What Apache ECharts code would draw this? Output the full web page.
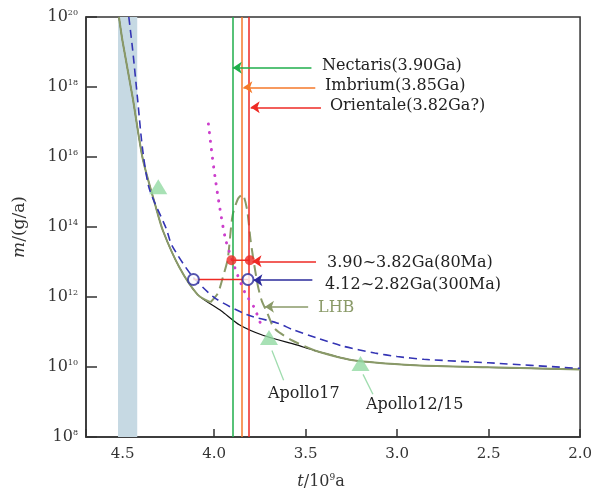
<!DOCTYPE html>
<html>
<head>
<meta charset="utf-8">
<script src="https://cdn.jsdelivr.net/npm/echarts@6/dist/echarts.min.js"></script>
<style>
  html, body { margin: 0; padding: 0; background: #fff; }
  #chart { width: 595px; height: 495px; }
</style>
</head>
<body>
<div id="chart"></div>
<script>
// t in 10^9 a, m as log10 of g/a
const tBlack = [4.52, 4.50, 4.445, 4.39, 4.32, 4.28, 4.19, 4.09, 3.96, 3.86, 3.73, 3.55, 3.45, 3.25, 2.9, 2.5, 2.0];
const mBlack = [20.0, 19.3, 17.7, 15.95, 14.6, 13.9, 12.85, 12.07, 11.6, 11.2, 10.9, 10.63, 10.47, 10.2, 10.05, 9.99, 9.93];

const tBump = [4.02, 3.98, 3.95, 3.925, 3.90, 3.87, 3.845, 3.82, 3.80, 3.78, 3.76, 3.74, 3.71, 3.67, 3.57, 3.45];
const mBump = [11.85, 12.1, 12.6, 13.1, 14.3, 14.8, 14.93, 14.5, 13.6, 12.9, 12.3, 11.9, 11.55, 11.1, 10.75, 10.47];

const tBlue = [4.466, 4.445, 4.418, 4.391, 4.354, 4.262, 4.231, 4.123, 3.995, 3.818, 3.657, 3.566, 3.443, 3.3, 3.122, 3.0, 2.854, 2.5, 2.0];
const mBlue = [20.0, 19.06, 17.65, 16.23, 15.09, 13.96, 13.48, 12.62, 11.97, 11.49, 11.26, 11.06, 10.84, 10.6, 10.4, 10.3, 10.22, 10.12, 9.96];

const tMag = [4.031, 4.015, 3.995, 3.968, 3.936, 3.882, 3.83, 3.78, 3.738];
const mMag = [16.94, 16.23, 15.43, 14.52, 13.62, 12.77, 12.11, 11.69, 11.12];

const triT = [4.305, 3.70, 3.20];
const triM = [15.15, 10.84, 10.1];

const blueCircleT = [4.113, 3.815];
const blueCircleM = [12.5, 12.5];
const redCircleT = [3.905, 3.805];
const redCircleM = [13.05, 13.05];

const basinT = [3.90, 3.845, 3.805];      // Nectaris, Imbrium, Orientale
const bandT = [4.525, 4.42];

// horizontal arrows: level, start (label side), tip
const arrowM  = [18.55, 17.99, 17.42, 13.02, 12.48, 11.72];
const arrowT0 = [3.468, 3.447, 3.416, 3.443, 3.463, 3.486];
const arrowT1 = [3.898, 3.840, 3.800, 3.790, 3.785, 3.722];
const arrowColors = ['#1fae4b', '#f5792a', '#ee2a24', '#ee2a24', '#2b2b9b', '#8a9a68'];

// Apollo pointers: [t0, m0, t1, m1]
const pointers = [[3.62, 9.62, 3.684, 10.47], [3.132, 9.22, 3.186, 9.79]];

const xTicks = [2.0, 2.5, 3.0, 3.5, 4.0, 4.5];

const zip = (a, b) => a.map((v, i) => [v, b[i]]);

const blackPts = zip(tBlack, mBlack);
const bumpPts = zip(tBump, mBump);
const oliveSolid = blackPts.filter(p => p[0] > 4.05)
  .concat([bumpPts[0], null, bumpPts[bumpPts.length - 1]])
  .concat(blackPts.filter(p => p[0] < 3.45));

const serif = 'DejaVu Serif';
const chart = echarts.init(document.getElementById('chart'));

const labelText = (text, x, y, color) => ({
  type: 'text', left: x, top: y - 10,
  style: { text: text, font: '16px "DejaVu Serif"', fill: color || '#222' }
});

const curve = (data, lineStyle, z) => ({
  type: 'line', data: data, smooth: 0.25, showSymbol: false,
  connectNulls: false, lineStyle: lineStyle, z: z
});

chart.setOption({
  animation: false,
  grid: { left: 86, right: 6, top: 17, bottom: 55, show: true, borderColor: '#333', borderWidth: 1.5 },
  xAxis: {
    type: 'value', min: 2.0, max: 4.7, interval: 0.5, inverse: true,
    axisLine: { lineStyle: { color: '#333', width: 1.5 } },
    axisTick: { inside: true, length: 8, lineStyle: { color: '#333', width: 1.5 } },
    axisLabel: {
      color: '#333', fontFamily: serif, fontSize: 15, margin: 10,
      formatter: v => xTicks.some(x => Math.abs(x - v) < 1e-6) ? v.toFixed(1) : ''
    },
    splitLine: { show: false },
    name: '{i|t}/10{s|9}a', nameLocation: 'middle', nameGap: 36,
    nameTextStyle: {
      color: '#333', fontFamily: serif, fontSize: 16, padding: [0, 24, 0, 0],
      rich: {
        i: { fontFamily: serif, fontSize: 16, fontStyle: 'italic', color: '#333' },
        s: { fontFamily: serif, fontSize: 9, color: '#333', padding: [0, 0, 9, 0] }
      }
    }
  },
  yAxis: {
    type: 'value', min: 8, max: 20, interval: 2,
    axisLine: { lineStyle: { color: '#333', width: 1.5 } },
    axisTick: { inside: true, length: 11, lineStyle: { color: '#333', width: 1.5 } },
    axisLabel: {
      margin: 8,
      formatter: v => '{b|10}{s|' + v + '}',
      rich: {
        b: { fontFamily: serif, fontSize: 16, color: '#333' },
        s: { fontFamily: serif, fontSize: 8, color: '#333', padding: [0, 0, 9, 0] }
      }
    },
    splitLine: { show: false },
    name: '{i|m}/(g/a)', nameLocation: 'middle', nameGap: 58,
    nameTextStyle: {
      color: '#333', fontFamily: serif, fontSize: 17,
      rich: { i: { fontFamily: serif, fontSize: 17, fontStyle: 'italic', color: '#333' } }
    }
  },
  graphic: [
    labelText('Nectaris(3.90Ga)', 322, 68),
    labelText('Imbrium(3.85Ga)', 325, 88),
    labelText('Orientale(3.82Ga?)', 330, 108),
    labelText('3.90~3.82Ga(80Ma)', 327, 265),
    labelText('4.12~2.82Ga(300Ma)', 325, 287),
    labelText('LHB', 318, 310, '#8a9a68'),
    labelText('Apollo17', 268, 396),
    labelText('Apollo12/15', 366, 407)
  ],
  series: [
    {
      type: 'line', data: [], silent: true,
      markArea: {
        silent: true,
        itemStyle: { color: '#c6d9e3' },
        data: [[{ xAxis: bandT[0] }, { xAxis: bandT[1] }]]
      },
      markLine: {
        silent: true, symbol: 'none', label: { show: false },
        data: basinT.map((t, i) => ({
          xAxis: t,
          lineStyle: { type: 'solid', width: 1.5, color: ['#1fae4b', '#f5792a', '#ee2a24'][i] }
        }))
      },
      z: 1
    },
    curve(blackPts, { color: '#111', width: 1.2 }, 3),
    curve(oliveSolid, { color: '#8a9a68', width: 2 }, 4),
    curve(bumpPts, { color: '#8a9a68', width: 2, type: [11, 6] }, 4),
    curve(zip(tBlue, mBlue), { color: '#3434b4', width: 1.6, type: [8, 5] }, 5),
    curve(zip(tMag, mMag), { color: '#cc3fcc', width: 3, type: [0.1, 8.5], cap: 'round' }, 5),
    {
      type: 'line', data: zip(blueCircleT, blueCircleM), showSymbol: false,
      lineStyle: { color: '#ee2a24', width: 1.5 }, z: 6
    },
    {
      type: 'line', data: zip(redCircleT, redCircleM), showSymbol: false,
      lineStyle: { color: '#ee2a24', width: 1.5 }, z: 6
    },
    {
      type: 'lines', coordinateSystem: 'cartesian2d', silent: true,
      symbol: ['none', 'arrow'], symbolSize: 9,
      lineStyle: { width: 1.5, opacity: 1 },
      data: arrowM.map((m, i) => ({
        coords: [[arrowT0[i], m], [arrowT1[i], m]],
        lineStyle: { color: arrowColors[i] }
      })),
      z: 7
    },
    {
      type: 'lines', coordinateSystem: 'cartesian2d', silent: true,
      lineStyle: { width: 1.3, color: '#9fdcae', opacity: 1 },
      data: pointers.map(p => ({ coords: [[p[0], p[1]], [p[2], p[3]]] })),
      z: 7
    },
    {
      type: 'scatter', data: zip(triT, triM), symbol: 'triangle', symbolSize: [18, 15],
      itemStyle: { color: '#92d9a2' }, z: 8
    },
    {
      type: 'scatter', data: zip(blueCircleT, blueCircleM), symbol: 'circle', symbolSize: 11,
      itemStyle: { color: '#fff', borderColor: '#2b2b9b', borderWidth: 2 }, z: 9
    },
    {
      type: 'scatter', data: zip(redCircleT, redCircleM), symbol: 'circle', symbolSize: 10,
      itemStyle: { color: '#ee2a24' }, z: 9
    }
  ]
});
</script>
</body>
</html>
